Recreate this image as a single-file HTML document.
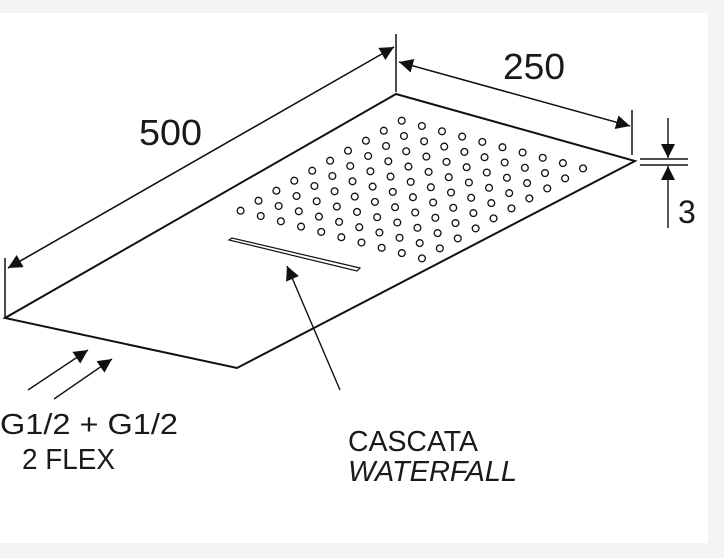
<!DOCTYPE html>
<html><head><style>
html,body{margin:0;padding:0;background:#f4f4f4;}
svg{display:block;}
text{font-family:"Liberation Sans",sans-serif;fill:#1a1a1a;}
</style></head><body>
<svg width="724" height="558" viewBox="0 0 724 558" xmlns="http://www.w3.org/2000/svg">
<defs>
<marker id="ar" viewBox="0 0 10 10" refX="10" refY="5" markerWidth="14" markerHeight="14" markerUnits="userSpaceOnUse" orient="auto">
<path d="M0,0 L10,5 L0,10 z" fill="#111"/>
</marker>
<g id="row" fill="none" stroke="#111" stroke-width="1.3">
<circle cx="401.7" cy="120.7" r="3.4"/><circle cx="421.85" cy="126" r="3.4"/><circle cx="442" cy="131.3" r="3.4"/><circle cx="462.15" cy="136.6" r="3.4"/><circle cx="482.3" cy="141.9" r="3.4"/><circle cx="502.45" cy="147.2" r="3.4"/><circle cx="522.6" cy="152.5" r="3.4"/><circle cx="542.75" cy="157.8" r="3.4"/><circle cx="562.9" cy="163.1" r="3.4"/><circle cx="583.05" cy="168.4" r="3.4"/>
</g>
</defs>
<rect x="0" y="13" width="708" height="530" fill="#fff"/>
<g stroke="#111" fill="none">
<path d="M396,94 L635,161 L237,368 L5,318 Z" stroke-width="2" stroke-linejoin="miter"/>
<line x1="396" y1="34" x2="396" y2="92" stroke-width="1.5"/>
<line x1="5" y1="258" x2="5" y2="318" stroke-width="1.5"/>
<line x1="632" y1="110" x2="632" y2="155" stroke-width="1.5"/>
<line x1="8" y1="268" x2="394" y2="47" stroke-width="1.4" marker-end="url(#ar)"/>
<line x1="394" y1="47" x2="8" y2="268" stroke-width="1.4" marker-end="url(#ar)"/>
<line x1="399" y1="62" x2="630" y2="126" stroke-width="1.4" marker-end="url(#ar)"/>
<line x1="630" y1="126" x2="399" y2="62" stroke-width="1.4" marker-end="url(#ar)"/>
<line x1="640" y1="159" x2="688" y2="159" stroke-width="1.5"/>
<line x1="640" y1="165" x2="688" y2="165" stroke-width="1.5"/>
<line x1="668" y1="118" x2="668" y2="158" stroke-width="1.4" marker-end="url(#ar)"/>
<line x1="668" y1="228" x2="668" y2="166" stroke-width="1.4" marker-end="url(#ar)"/>
<path d="M229,240 L232,238 L360,268 L357,271 Z" stroke-width="1.2"/>
<line x1="340" y1="390" x2="287" y2="266" stroke-width="1.4" marker-end="url(#ar)"/>
<line x1="28" y1="390" x2="88" y2="350" stroke-width="1.4" marker-end="url(#ar)"/>
<line x1="54" y1="399" x2="112" y2="359" stroke-width="1.4" marker-end="url(#ar)"/>
</g>
<use href="#row"/>
<use href="#row" transform="translate(-17.9,10)"/>
<use href="#row" transform="translate(-35.8,20)"/>
<use href="#row" transform="translate(-53.7,30)"/>
<use href="#row" transform="translate(-71.6,40)"/>
<use href="#row" transform="translate(-89.5,50)"/>
<use href="#row" transform="translate(-107.4,60)"/>
<use href="#row" transform="translate(-125.3,70)"/>
<use href="#row" transform="translate(-143.2,80)"/>
<use href="#row" transform="translate(-161.1,90)"/>
<text x="139" y="145" font-size="36" textLength="63" lengthAdjust="spacingAndGlyphs">500</text>
<text x="503" y="79" font-size="36" textLength="62" lengthAdjust="spacingAndGlyphs">250</text>
<text x="678" y="223" font-size="32">3</text>
<text x="0" y="434" font-size="29" textLength="178" lengthAdjust="spacingAndGlyphs">G1/2 + G1/2</text>
<text x="22" y="469" font-size="29" textLength="93" lengthAdjust="spacingAndGlyphs">2 FLEX</text>
<text x="348" y="451" font-size="29" textLength="130" lengthAdjust="spacingAndGlyphs">CASCATA</text>
<text x="348" y="481" font-size="29" font-style="italic" textLength="169" lengthAdjust="spacingAndGlyphs">WATERFALL</text>
</svg>
</body></html>
